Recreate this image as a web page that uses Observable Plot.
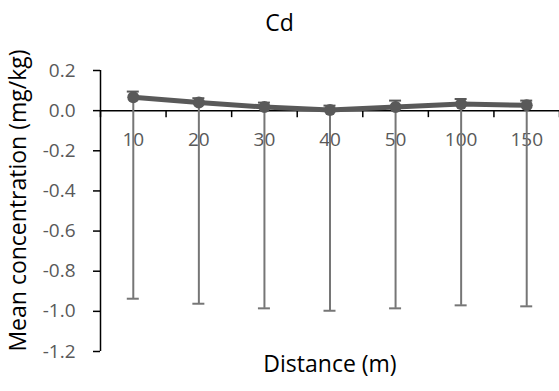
<!DOCTYPE html>
<html>
<head>
<meta charset="utf-8">
<script src="https://cdn.jsdelivr.net/npm/d3@7"></script>
<script src="https://cdn.jsdelivr.net/npm/@observablehq/plot@0.6"></script>
<style>
  html, body { margin: 0; padding: 0; background: #fff; }
  #chart { width: 559px; height: 391px; overflow: hidden; }
  #title { width: 559px; height: 44px; line-height: 44px; text-align: center;
           font-family: "Open Sans", sans-serif; font-size: 23px; color: #000; }
</style>
</head>
<body>
<div id="chart">
  <div id="title">Cd</div>
</div>
<script>
// ---- data ----
const categories = ["10", "20", "30", "40", "50", "100", "150"];
const means = [0.067, 0.040, 0.018, 0.003, 0.018, 0.033, 0.027];
const lowerBars = [-0.937, -0.962, -0.985, -0.997, -0.985, -0.970, -0.975];
const upperBars = [0.095, 0.062, 0.040, 0.025, 0.050, 0.058, 0.050];
const yTicks = [0.2, 0.0, -0.2, -0.4, -0.6, -0.8, -1.0, -1.2];
const title = "Cd";
const xLabel = "Distance (m)";
const yLabel = "Mean concentration (mg/kg)";

const yMin = d3.min(yTicks), yMax = d3.max(yTicks);
const rows = categories.map((c, i) => ({i, cat: c, mean: means[i], lo: lowerBars[i], hi: upperBars[i]}));
const boundaryRows = categories.map((c, i) => ({x: i - 0.5, y: 0}))
  .concat([{x: categories.length - 0.5, y: 0}]);
const yAxisRows = [{x: -0.5, y1: yMin, y2: yMax}];

document.getElementById("title").textContent = title;

const font = "Open Sans, sans-serif";
const gray = "#595959";
const barGray = "#767676";

const plot = Plot.plot({
  width: 559,
  height: 347,
  marginTop: 26,
  marginBottom: 40,
  marginLeft: 100,
  marginRight: 0,
  style: {fontFamily: font, fontSize: "19px", background: "#fff", overflow: "visible"},
  x: {type: "linear", domain: [-0.5, categories.length - 0.5], axis: null},
  y: {type: "linear", domain: [yMin, yMax], axis: null},
  marks: [
    // y axis
    Plot.axisY({ticks: yTicks, tickFormat: d => d.toFixed(1), tickSize: 7, tickPadding: 18,
      stroke: "#000", strokeWidth: 1.5, fill: gray, fontSize: 19, label: null}),
    Plot.ruleX(yAxisRows, {x: "x", y1: "y1", y2: "y2", stroke: "#000", strokeWidth: 1.5}),
    // zero line with category-boundary ticks
    Plot.ruleY([0], {stroke: "#000", strokeWidth: 1.5}),
    Plot.ruleX(boundaryRows, {x: "x", y1: "y", y2: "y", insetBottom: -7, stroke: "#000", strokeWidth: 1.5}),
    // category labels
    Plot.text(rows, {x: "i", y: 0, text: "cat", dy: 29, fill: gray, fontSize: 19}),
    // error bars
    Plot.ruleX(rows, {x: "i", y1: "lo", y2: "hi", stroke: barGray, strokeWidth: 2}),
    Plot.ruleY(rows, {x1: "i", x2: "i", y: "lo", insetLeft: -6, insetRight: -6, stroke: barGray, strokeWidth: 2}),
    Plot.ruleY(rows, {x1: "i", x2: "i", y: "hi", insetLeft: -6, insetRight: -6, stroke: gray, strokeWidth: 2}),
    // series
    Plot.line(rows, {x: "i", y: "mean", stroke: gray, strokeWidth: 5}),
    Plot.dot(rows, {x: "i", y: "mean", r: 6, fill: gray, stroke: "none"}),
    // axis titles
    Plot.text([xLabel], {frameAnchor: "bottom", dy: 20, fontSize: 23, fill: "#000"}),
    Plot.text([yLabel], {frameAnchor: "left", textAnchor: "middle", rotate: -90, dx: -82, dy: -10.5, fontSize: 23, fill: "#000"})
  ]
});
document.getElementById("chart").appendChild(plot);
</script>
</body>
</html>
